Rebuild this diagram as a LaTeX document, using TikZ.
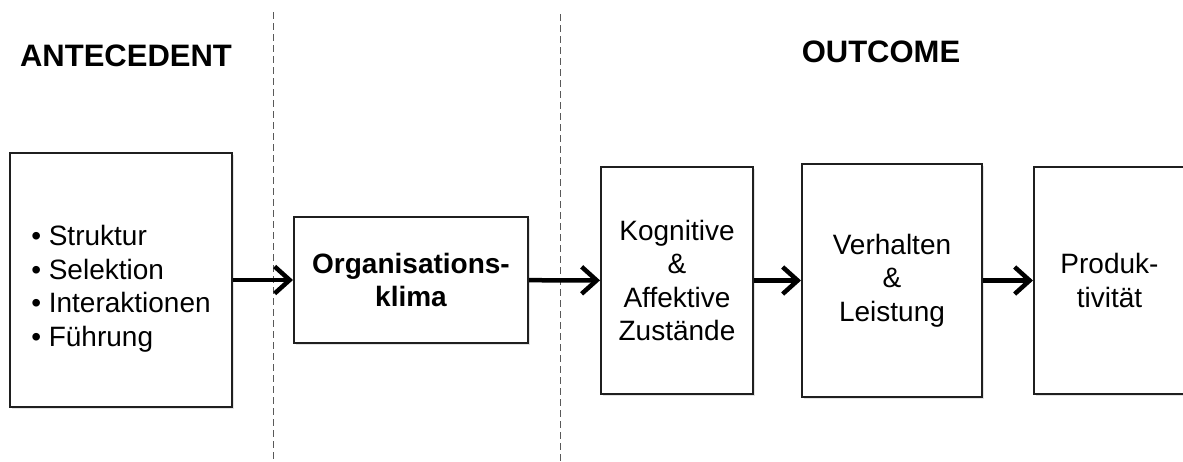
\documentclass[tikz,border=0pt]{standalone}
\usepackage{fontspec}
\setmainfont{Liberation Sans}
\usetikzlibrary{arrows.meta,shadows}
\begin{document}
\begin{tikzpicture}[x=1pt,y=-1pt,
  box/.style={draw=black!88, line width=2pt, fill=white, inner sep=0pt,
    align=center, font=\fontsize{28}{33.5}\selectfont,
    drop shadow={opacity=0.22, shadow xshift=1.5pt, shadow yshift=-1.5pt}},
  flow/.style={line width=4.5pt, -{Straight Barb[length=15pt,width=27pt]}},
  divider/.style={draw=black!65, line width=0.9pt, dash pattern=on 7pt off 4pt},
  heading/.style={font=\fontsize{31}{37}\selectfont\bfseries, anchor=base}]
\useasboundingbox (0,0) rectangle (1183,461);

% section dividers
\coordinate (d1top) at (273,12);
\coordinate (d1bot) at (273,461);
\coordinate (d2top) at (560,14);
\coordinate (d2bot) at (560,461);
\draw[divider] (d1top) -- (d1bot);
\draw[divider] (d2top) -- (d2bot);

% headings
\node[heading] (ante) at (126,66) {ANTECEDENT};
\node[heading] (outc) at (881,62) {OUTCOME};

% boxes
\node[box, align=left, minimum width=222, minimum height=254] (b1) at (121,280)
  {\rule{0pt}{38pt}• Struktur\\• Selektion\\• Interaktionen\\• Führung};
\node[box, minimum width=234, minimum height=126, font=\fontsize{28}{33.5}\selectfont\bfseries] (b2) at (411,280)
  {Organisations-\\klima};
\node[box, minimum width=152, minimum height=227] (b3) at (677,280.5)
  {Kognitive\\\&\\Affektive\\Zustände};
\node[box, minimum width=180, minimum height=233] (b4) at (892,280.5)
  {Verhalten\\\&\\Leistung};
\node[box, minimum width=151, minimum height=227] (b5) at (1109.5,280.5)
  {Produk-\\tivität};

% flow arrows
\draw[flow] (b1) -- (b2);
\draw[flow] (b2) -- (b3);
\draw[flow] (b3) -- (b4);
\draw[flow] (b4) -- (b5);
\end{tikzpicture}
\end{document}
